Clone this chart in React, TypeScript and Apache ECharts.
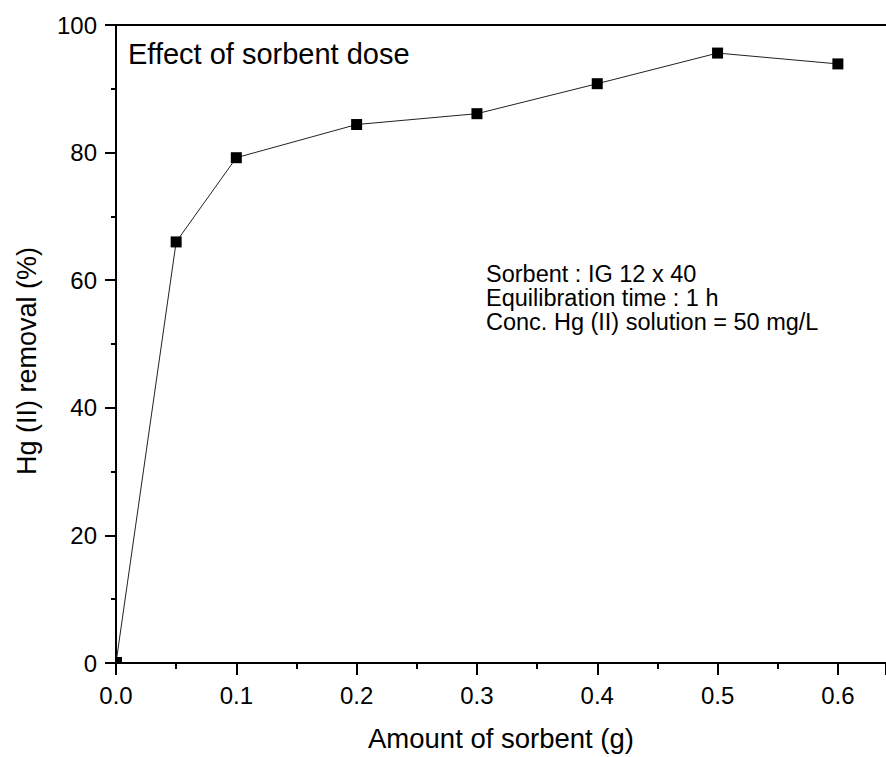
import React, { useEffect, useRef } from "react";
import * as echarts from "echarts";

const doseG = [0, 0.05, 0.1, 0.2, 0.3, 0.4, 0.5, 0.6];
const removalPct = [0, 66.0, 79.2, 84.4, 86.1, 90.8, 95.6, 93.9];
const titleText = "Effect of sorbent dose";
const noteLines = [
  "Sorbent : IG 12 x 40",
  "Equilibration time : 1 h",
  "Conc. Hg (II) solution = 50 mg/L",
];
const xName = "Amount of sorbent (g)";
const yName = "Hg (II) removal (%)";

const FONT = "'Liberation Sans', Arial, sans-serif";

export default function App() {
  const ref = useRef<HTMLDivElement>(null);
  useEffect(() => {
    if (!ref.current) return;
    const chart = echarts.init(ref.current, null, { renderer: "svg" });
    const data = doseG.map((x, i) =>
      i === 0
        ? { value: [x, removalPct[i]], symbolSize: 6, symbolOffset: [3, -3] }
        : { value: [x, removalPct[i]] }
    );
    chart.setOption({
      animation: false,
      backgroundColor: "#fff",
      textStyle: { fontFamily: FONT },
      grid: { left: 116, top: 25, right: -2, bottom: 91, containLabel: false },
      xAxis: [
        {
          type: "value",
          min: 0,
          max: 0.64,
          interval: 0.1,
          position: "bottom",
          name: xName,
          nameLocation: "middle",
          nameGap: 61,
          nameTextStyle: { fontSize: 27.5, color: "#000", fontFamily: FONT },
          axisLine: { show: true, onZero: false, lineStyle: { color: "#000", width: 2 } },
          axisTick: { show: true, inside: false, length: 12, lineStyle: { color: "#000", width: 2 } },
          minorTick: { show: true, splitNumber: 2, length: 6, lineStyle: { color: "#000", width: 2 } },
          axisLabel: {
            color: "#000",
            fontSize: 24,
            margin: 20,
            fontFamily: FONT,
            showMaxLabel: false,
            formatter: (v: number) => v.toFixed(1),
          },
          splitLine: { show: false },
        },
        {
          type: "value",
          min: 0,
          max: 0.64,
          position: "top",
          axisLine: { show: true, onZero: false, lineStyle: { color: "#000", width: 2 } },
          axisTick: { show: false },
          axisLabel: { show: false },
          splitLine: { show: false },
        },
      ],
      yAxis: {
        type: "value",
        min: 0,
        max: 100,
        interval: 20,
        axisLine: { show: true, onZero: false, lineStyle: { color: "#000", width: 2 } },
        axisTick: { show: true, inside: false, length: 11, lineStyle: { color: "#000", width: 2 } },
        minorTick: { show: true, splitNumber: 2, length: 5, lineStyle: { color: "#000", width: 2 } },
        axisLabel: { color: "#000", fontSize: 24, margin: 19, fontFamily: FONT },
        splitLine: { show: false },
      },
      graphic: [
        {
          type: "text",
          x: 27,
          y: 361,
          rotation: Math.PI / 2,
          style: {
            text: yName,
            fontSize: 27,
            fontFamily: FONT,
            fill: "#000",
            textAlign: "center",
            textVerticalAlign: "middle",
          },
        },
        {
          type: "text",
          x: 128,
          y: 54,
          style: {
            text: titleText,
            fontSize: 29,
            fontFamily: FONT,
            fill: "#000",
            textAlign: "left",
            textVerticalAlign: "middle",
          },
        },
        {
          type: "text",
          x: 486,
          y: 262,
          style: {
            text: noteLines.join("\n"),
            fontSize: 23.5,
            lineHeight: 24,
            fontFamily: FONT,
            fill: "#000",
            textAlign: "left",
            textVerticalAlign: "top",
          },
        },
      ],
      series: [
        {
          type: "line",
          xAxisIndex: 0,
          data,
          symbol: "rect",
          symbolSize: 11,
          showAllSymbol: true,
          clip: false,
          itemStyle: { color: "#000" },
          lineStyle: { color: "#222", width: 1 },
        },
      ],
    });
    return () => chart.dispose();
  }, []);
  return <div ref={ref} style={{ width: 886, height: 757, position: "absolute", left: 0, top: 0 }} />;
}
